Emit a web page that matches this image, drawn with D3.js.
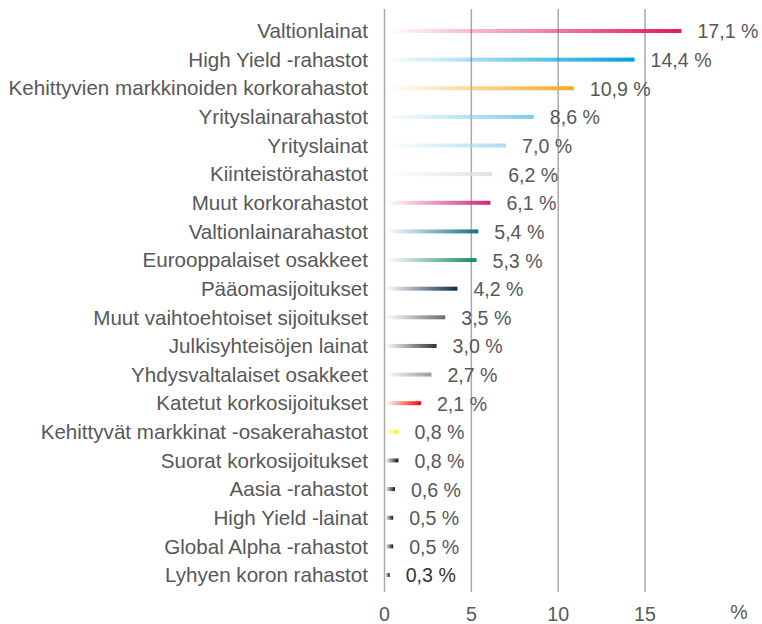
<!DOCTYPE html>
<html>
<head>
<meta charset="utf-8">
<script src="https://cdn.jsdelivr.net/npm/d3@7"></script>
<style>
  body { margin: 0; background: #fff; }
  text { font-family: "Liberation Sans", Arial, Helvetica, sans-serif; }
</style>
</head>
<body>
<div class="chart"></div>
<script>
var categories = ["Valtionlainat", "High Yield -rahastot", "Kehittyvien markkinoiden korkorahastot",
    "Yrityslainarahastot", "Yrityslainat", "Kiinteistörahastot", "Muut korkorahastot",
    "Valtionlainarahastot", "Eurooppalaiset osakkeet", "Pääomasijoitukset",
    "Muut vaihtoehtoiset sijoitukset", "Julkisyhteisöjen lainat", "Yhdysvaltalaiset osakkeet",
    "Katetut korkosijoitukset", "Kehittyvät markkinat -osakerahastot", "Suorat korkosijoitukset",
    "Aasia -rahastot", "High Yield -lainat", "Global Alpha -rahastot", "Lyhyen koron rahastot"];
var values = [17.1, 14.4, 10.9, 8.6, 7.0, 6.2, 6.1, 5.4, 5.3, 4.2, 3.5, 3.0, 2.7, 2.1, 0.8, 0.8, 0.6, 0.5, 0.5, 0.3];
var colors = ["#e2175b", "#00a0d8", "#f6a821", "#7ccce8", "#abdcef", "#e0e0e2", "#d4237f",
    "#17708d", "#168a5c", "#0c2b4b", "#6b6b6b", "#2f2f2f", "#9a9a9a", "#ff0000",
    "#f8f000", "#111111", "#111111", "#111111", "#111111", "#111111"];
var ticks = [0, 5, 10, 15];

var width = 762, height = 624;

var svg = d3.select(".chart")
    .append("svg")
    .attr("width", width)
    .attr("height", height)

var x = d3.scaleLinear().domain([0, 15]).range([384.5, 645]);
var y = d3.scaleBand().domain(categories).range([16.7, 589.3]).padding(0);

var defs = svg.append("defs");
categories.forEach(function(c, i) {
    var g = defs.append("linearGradient")
        .attr("id", "grad" + i)
        .attr("x1", "0").attr("x2", "1").attr("y1", "0").attr("y2", "0");
    g.append("stop").attr("offset", "0").attr("stop-color", colors[i]).attr("stop-opacity", 0);
    g.append("stop").attr("offset", "1").attr("stop-color", colors[i]).attr("stop-opacity", 1);
});

// grid lines
svg.selectAll(".grid")
    .data(ticks)
    .enter().append("line")
    .attr("x1", d => x(d)).attr("x2", d => x(d))
    .attr("y1", 9).attr("y2", 592)
    .attr("stroke", "#a9a9a9")
    .attr("stroke-width", 1.5)

// bars
svg.selectAll(".bar")
    .data(values)
    .enter().append("rect")
    .attr("x", x(0) + 1)
    .attr("y", (d, i) => y(categories[i]) + y.bandwidth() / 2 - 2)
    .attr("width", d => x(d) - x(0) - 1)
    .attr("height", 4)
    .attr("fill", (d, i) => "url(#grad" + i + ")")

var fmt = d3.format(".1f");

// value labels
svg.selectAll(".val")
    .data(values)
    .enter().append("text")
    .attr("x", d => x(d) + 16)
    .attr("y", (d, i) => y(categories[i]) + y.bandwidth() / 2)
    .attr("dy", "0.38em")
    .text(d => fmt(d).replace(".", ",") + " %")
    .style("font-size", "19.6px")
    .attr("fill", (d, i) => i == values.length - 1 ? "#333" : "#585858")

// category labels
svg.selectAll(".cat")
    .data(categories)
    .enter().append("text")
    .attr("x", 368)
    .attr("y", d => y(d) + y.bandwidth() / 2)
    .attr("dy", "0.35em")
    .attr("text-anchor", "end")
    .text(d => d)
    .style("font-size", "20.6px")
    .attr("fill", "#585858")

// x tick labels
svg.selectAll(".tick")
    .data(ticks)
    .enter().append("text")
    .attr("x", d => x(d))
    .attr("y", 621)
    .attr("text-anchor", "middle")
    .text(d => d)
    .style("font-size", "19.6px")
    .attr("fill", "#585858")

svg.append("text")
    .attr("x", 739)
    .attr("y", 619)
    .attr("text-anchor", "middle")
    .text("%")
    .style("font-size", "19.6px")
    .attr("fill", "#585858")
</script>
</body>
</html>
